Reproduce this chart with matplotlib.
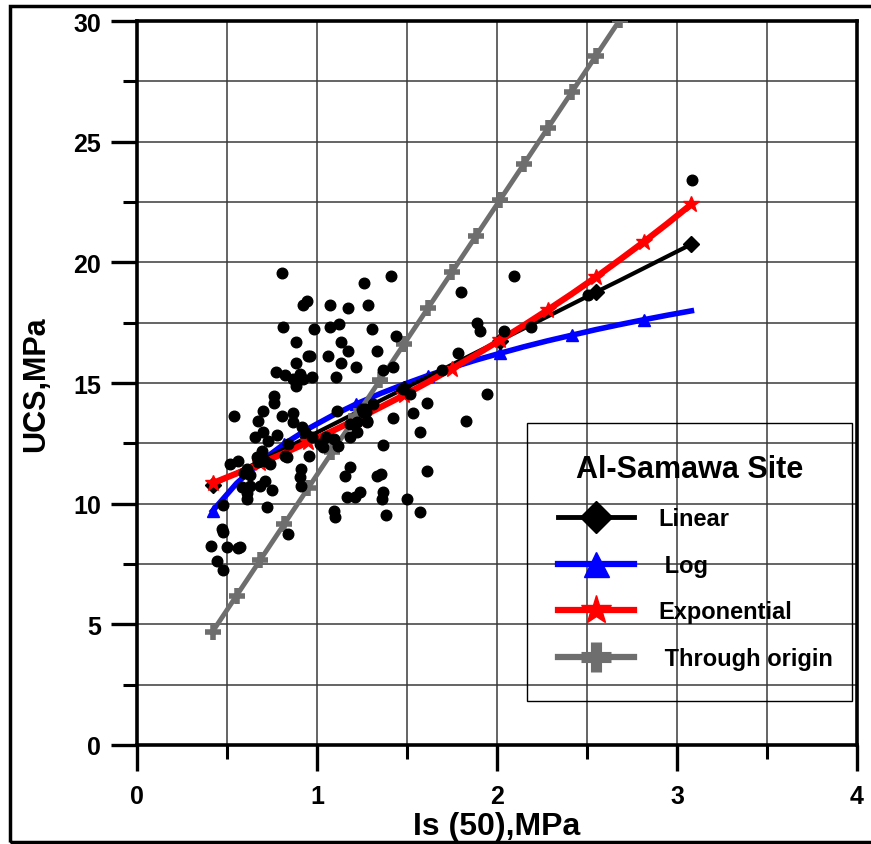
import matplotlib.pyplot as plt
from matplotlib.lines import Line2D
from matplotlib.patches import Rectangle
from matplotlib.ticker import MultipleLocator

plt.rcParams['font.family'] = ['Liberation Sans', 'DejaVu Sans']
plt.rcParams['font.weight'] = 'bold'

# measured points: Is(50) vs UCS
is50 = [0.806, 1.261, 0.922, 0.944, 1.072, 1.172, 1.283, 0.811, 0.983, 1.072,
        1.122, 1.306, 0.883, 1.133, 0.950, 0.961, 1.061, 1.172, 1.333, 0.883,
        1.133, 1.217, 0.772, 0.822, 0.867, 0.883, 0.906, 0.922, 0.972, 1.106,
        0.761, 0.761, 0.539, 0.700, 0.806, 0.867, 0.867, 0.672, 1.111, 1.267,
        0.917, 0.933, 0.700, 0.656, 0.728, 0.778, 0.972, 1.050, 1.094, 1.117,
        1.183, 1.222, 1.278, 1.256, 0.839, 1.017, 1.033, 0.517, 0.561, 0.667,
        0.694, 0.711, 0.739, 0.822, 0.833, 0.956, 0.672, 0.611, 0.628, 0.594,
        0.911, 0.906, 1.156, 1.183, 0.583, 0.628, 0.611, 0.683, 0.711, 0.750,
        0.911, 0.611, 0.722, 1.167, 1.211, 1.239, 1.333, 0.478, 1.094, 1.100,
        0.472, 0.478, 0.839, 0.411, 0.500, 0.561, 0.572, 0.444, 0.478,
        1.411, 1.800, 2.094, 1.439, 1.889, 1.906, 2.039, 2.189, 1.783, 1.367,
        1.422, 1.694, 1.478, 1.517, 1.944, 1.611, 1.250, 1.272, 1.311, 1.533,
        1.422, 1.828, 1.183, 1.222, 1.278, 1.572, 1.367, 1.611, 1.356, 1.367,
        1.361, 1.500, 1.572, 1.383, 2.506, 3.083]
ucs = [19.56, 19.15, 18.23, 18.40, 18.23, 18.11, 18.23, 17.32, 17.24, 17.32,
       17.45, 17.24, 16.70, 16.70, 16.12, 16.12, 16.12, 16.33, 16.33, 15.83,
       15.83, 15.67, 15.46, 15.33, 15.17, 14.88, 15.37, 15.17, 15.25, 15.25,
       14.46, 14.17, 13.63, 13.84, 13.63, 13.76, 13.39, 13.43, 13.84, 13.92,
       13.18, 12.97, 12.97, 12.76, 12.60, 12.85, 12.76, 12.76, 12.68, 12.39,
       12.76, 12.97, 13.43, 13.80, 12.47, 12.47, 12.35, 11.65, 11.77, 11.94,
       12.18, 11.77, 11.65, 11.98, 11.94, 11.98, 11.71, 11.44, 11.19, 11.27,
       11.44, 11.11, 11.15, 11.52, 10.69, 10.73, 10.44, 10.73, 10.94, 10.57,
       10.73, 10.19, 9.86, 10.28, 10.28, 10.48, 11.15, 9.95, 9.70, 9.45,
       8.95, 8.83, 8.74, 8.25, 8.21, 8.16, 8.21, 7.63, 7.25,
       19.44, 18.77, 19.44, 16.95, 17.49, 17.16, 17.16, 17.32, 16.25, 15.54,
       15.67, 15.54, 14.75, 14.55, 14.55, 14.17, 13.92, 13.80, 14.13, 13.76,
       13.55, 13.43, 13.30, 13.39, 13.39, 12.97, 12.43, 11.36, 11.23, 10.48,
       10.19, 10.19, 9.66, 9.53, 18.65, 23.41]

# fitted curves
x_fit = [0.42, 0.553, 0.686, 0.819, 0.952, 1.085, 1.218, 1.351, 1.484, 1.617, 1.75,
         1.883, 2.016, 2.149, 2.282, 2.415, 2.548, 2.681, 2.814, 2.947, 3.08]
y_linear = [10.78, 11.27, 11.77, 12.27, 12.77, 13.27, 13.77, 14.27, 14.77, 15.26, 15.76,
            16.26, 16.76, 17.26, 17.76, 18.26, 18.76, 19.25, 19.75, 20.25, 20.75]
y_log = [9.70, 10.84, 11.74, 12.48, 13.11, 13.65, 14.13, 14.56, 14.95, 15.31, 15.64,
         15.95, 16.23, 16.50, 16.75, 16.98, 17.21, 17.42, 17.62, 17.81, 17.99]
y_exp = [10.85, 11.25, 11.67, 12.10, 12.55, 13.01, 13.49, 13.99, 14.50, 15.04, 15.60,
         16.17, 16.77, 17.39, 18.03, 18.69, 19.38, 20.10, 20.84, 21.61, 22.41]
y_origin = [4.70, 6.19, 7.68, 9.17, 10.66, 12.15, 13.64, 15.13, 16.62, 18.11, 19.60,
            21.09, 22.58, 24.07, 25.56, 27.05, 28.54, 30.03, 31.52, 33.01, 34.50]

fig = plt.figure(figsize=(8.71, 8.45), dpi=100)
ax = fig.add_axes([137 / 871, 1 - 746 / 845, 720 / 871, 724 / 845])

ax.plot(x_fit, y_log, color='blue', lw=4, marker='^', ms=9, markevery=3, zorder=3)
ax.plot(x_fit, y_linear, color='black', lw=3, marker='D', ms=8, markevery=4, zorder=3)
ax.plot(x_fit, y_exp, color='red', lw=4.5, marker='*', ms=12, markevery=2, zorder=3)
ax.plot(x_fit, y_origin, color='#6e6e6e', lw=3.5, marker='+', ms=11, mew=4, zorder=4)
ax.scatter(is50, ucs, s=58, color='black', zorder=5)

ax.set_xlim(0, 4)
ax.set_ylim(0, 30)
ax.xaxis.set_major_locator(MultipleLocator(1))
ax.xaxis.set_minor_locator(MultipleLocator(0.5))
ax.yaxis.set_major_locator(MultipleLocator(5))
ax.yaxis.set_minor_locator(MultipleLocator(2.5))
ax.grid(True, which='both', color='#3a3a3a', lw=1.1, zorder=0)
ax.set_axisbelow(True)

for s in ax.spines.values():
    s.set_linewidth(2.6)
ax.tick_params(which='major', direction='out', length=19, width=2.4, labelsize=18)
ax.tick_params(which='minor', direction='out', length=10, width=2.2)
ax.tick_params(axis='x', which='major', pad=9)
ax.tick_params(axis='y', which='major', pad=7)

ax.set_xlabel('Is (50),MPa', fontsize=23, fontweight='bold', labelpad=2)
ax.set_ylabel('UCS,MPa', fontsize=22, fontweight='bold', labelpad=16)

handles = [
    Line2D([], [], color='black', lw=3.5, marker='D', ms=16),
    Line2D([], [], color='blue', lw=4.5, marker='^', ms=18),
    Line2D([], [], color='red', lw=4.5, marker='*', ms=22),
    Line2D([], [], color='#6e6e6e', lw=4.5, marker='+', ms=22, mew=8),
]
labels = ['Linear', ' Log', 'Exponential', ' Through origin']
leg = ax.legend(handles, labels, loc='upper left',
                bbox_to_anchor=(0.5417, 0.0677, 0.4513, 0.3771), mode='expand',
                prop={'size': 17, 'weight': 'bold'}, title='Al-Samawa Site',
                title_fontproperties={'size': 22, 'weight': 'bold'},
                handlelength=3.25, handletextpad=1.0, labelspacing=1.0,
                borderpad=1.3, borderaxespad=0, fancybox=False)
frame = leg.get_frame()
frame.set_facecolor('none')
frame.set_edgecolor('black')
frame.set_linewidth(1.0)
frame.set_alpha(None)

fig.add_artist(Rectangle((10 / 871, 2 / 845), 1.2, 1 - 9 / 845, transform=fig.transFigure,
                         fill=False, lw=2.5, edgecolor='black'))

fig.savefig('out.png', dpi=100)
